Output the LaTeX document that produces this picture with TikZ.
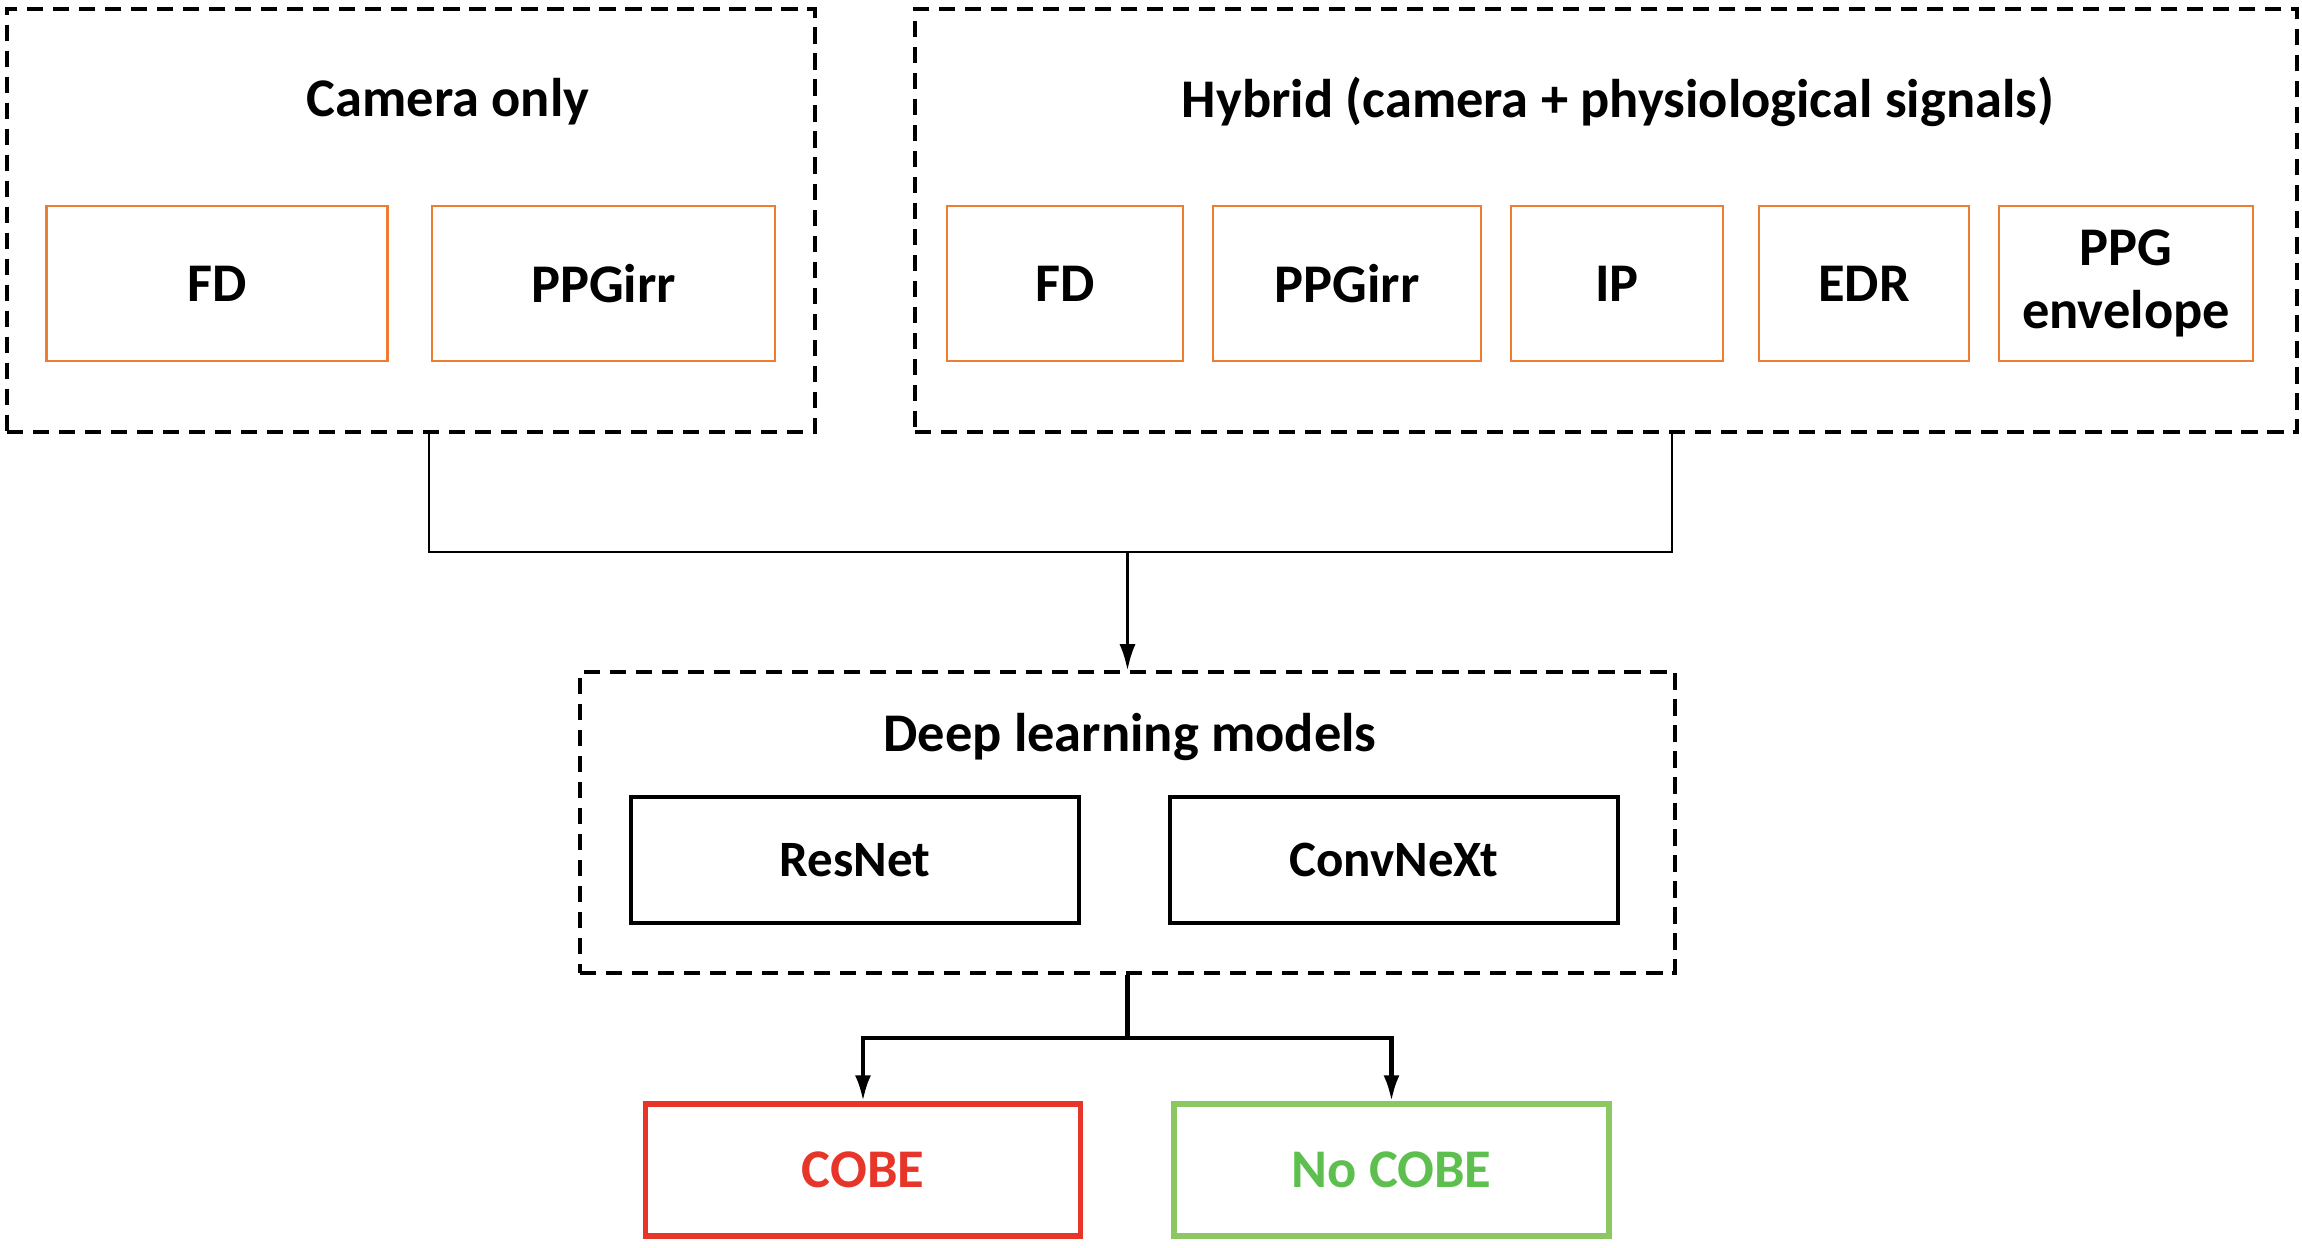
\documentclass[tikz,border=0pt]{standalone}
\usepackage{fontspec}
\setmainfont{Carlito}
\usetikzlibrary{arrows.meta}

\definecolor{boxorange}{HTML}{ED7D31}
\definecolor{cobered}{HTML}{E8352A}
\definecolor{cobegreen}{HTML}{8CC862}
\definecolor{textgreen}{HTML}{5CBF4E}

\tikzset{
    groupbox/.style={draw, line width=1pt, dash pattern=on 4.6pt off 2.8pt,
        minimum width=#1, inner sep=0pt},
    featbox/.style={draw=boxorange, line width=0.8pt, minimum height=1.55cm,
        minimum width=#1, inner sep=0pt, align=center,
        font=\fontsize{15.5}{17}\selectfont\bfseries},
    modelbox/.style={draw, line width=0.9pt, minimum height=1.26cm,
        minimum width=4.48cm, inner sep=0pt, font=\fontsize{14.5}{16}\selectfont\bfseries},
    outbox/.style={draw=#1, line width=1.5pt, minimum height=1.32cm,
        minimum width=4.35cm, inner sep=0pt, font=\fontsize{15.5}{16}\selectfont\bfseries},
    titletext/.style={font=\fontsize{15.5}{17}\selectfont\bfseries},
    tip/.style={-{Latex[length=2.6mm,width=1.6mm]}},
}

\begin{document}
\begin{tikzpicture}
            \useasboundingbox (0,0) rectangle (23.02,-12.48);
            % Gruppen oben:
            \node[groupbox=8.08cm, minimum height=4.23cm] (cam) at (4.11,-2.205) {};
            \node[titletext] (camtitle) at (4.48,-1.02) {Camera only};
            \node[groupbox=13.82cm, minimum height=4.23cm] (hyb) at (16.06,-2.205) {};
            \node[titletext] (hybtitle) at (16.18,-1.02) {Hybrid (camera + physiological signals)};
            % Merkmale:
            \node[featbox=3.41cm] (fdcam) at (2.17,-2.835) {FD};
            \node[featbox=3.43cm] (ppgcam) at (6.035,-2.835) {PPGirr};
            \node[featbox=2.36cm] (fdhyb) at (10.65,-2.835) {FD};
            \node[featbox=2.68cm] (ppghyb) at (13.47,-2.835) {PPGirr};
            \node[featbox=2.12cm] (ip) at (16.17,-2.835) {IP};
            \node[featbox=2.10cm] (edr) at (18.64,-2.835) {EDR};
            \node[featbox=2.54cm] (env) at (21.26,-2.835) {PPG\\[0.7pt]envelope};
            % Modelle:
            \node[groupbox=10.95cm, minimum height=3.01cm] (deep) at (11.275,-8.225) {};
            \node[titletext] (deeptitle) at (11.30,-7.37) {Deep learning models};
            \node[modelbox] (resnet) at (8.55,-8.60) {ResNet};
            \node[modelbox] (convnext) at (13.94,-8.60) {ConvNeXt};
            % Ergebnis:
            \node[outbox=cobered, text=cobered] (cobe) at (8.63,-11.70) {COBE};
            \node[outbox=cobegreen, text=textgreen] (nocobe) at (13.915,-11.70) {No COBE};
            % Verbindungen:
            \coordinate (join) at (11.275,-5.52);
            \draw[line width=0.8pt] ([xshift=0.18cm]cam.south) |- (join)
                -| ([xshift=0.66cm]hyb.south);
            \draw[line width=0.8pt, tip] (join) -- (deep.north);
            \draw[line width=1.2pt] (deep.south) -- ++(0,-0.63) coordinate (split);
            \draw[line width=1.2pt, tip] (split) -| (cobe.north);
            \draw[line width=1.2pt, tip] (split) -| (nocobe.north);
\end{tikzpicture}
\end{document}
